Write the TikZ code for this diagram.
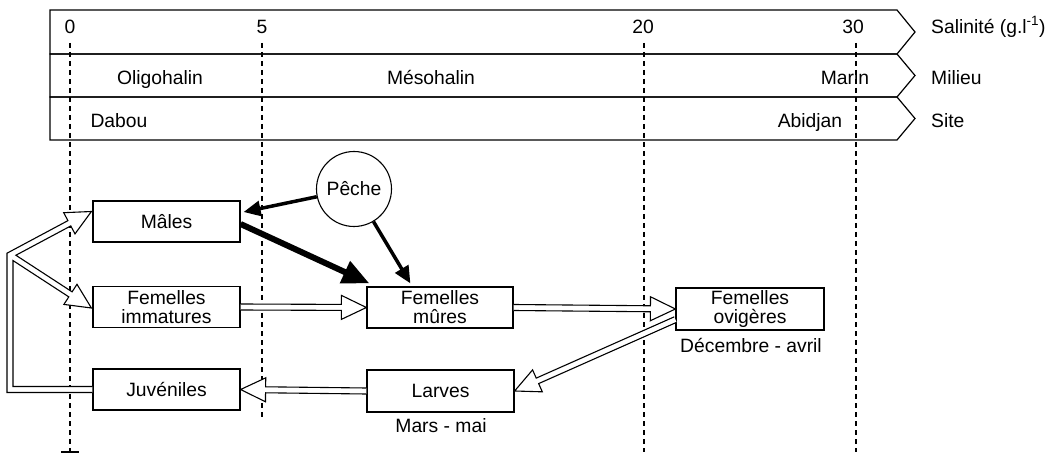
\documentclass[tikz,border=0pt]{standalone}
\usepackage{fontspec}
\setmainfont{Liberation Sans}
\usetikzlibrary{arrows.meta,calc}
\tikzset{
  box/.style={draw,line width=1.2pt,minimum width=147pt,minimum height=41pt,inner sep=0pt,align=center,fill=white},
  band/.style={draw,line width=1.2pt,line join=miter},
  gridline/.style={line width=1.1pt,dash pattern=on 5pt off 4pt},
  hollow/.style={draw,fill=white,line width=1.1pt,line join=miter},
  blkA/.style={line width=3.5pt,-{Triangle[length=17pt,width=15pt]}},
  blkB/.style={line width=6pt,-{Triangle[length=27pt,width=23pt]}},
  lab/.style={anchor=base,inner sep=0pt},
}
\newcommand{\harrow}[2]{%
  \coordinate (hA) at (#1);
  \coordinate (hB) at (#2);
  \coordinate (hC) at ($(hB)!25pt!(hA)$);
  \filldraw[hollow] ($(hA)!3pt!90:(hB)$) -- ($(hC)!3pt!90:(hB)$) -- ($(hC)!12pt!90:(hB)$) -- (hB) -- ($(hC)!12pt!-90:(hB)$) -- ($(hC)!3pt!-90:(hB)$) -- ($(hA)!3pt!-90:(hB)$);
}
\begin{document}
\begin{tikzpicture}[x=1pt,y=-1pt,font=\fontsize{19.3}{17}\selectfont]
\useasboundingbox (0,0) rectangle (1057,454);
% bands
\draw[band] (50,10) -- (897,10) -- (915,32) -- (897,54) -- (50,54) -- cycle;
\draw[band] (50,54) -- (897,54) -- (915,75.5) -- (897,97) -- (50,97) -- cycle;
\draw[band] (50,97) -- (897,97) -- (915,118.5) -- (897,140) -- (50,140) -- cycle;
% band labels
\node[lab] (s0) at (70,33.5) {0};
\node[lab] (s5) at (262,33.5) {5};
\node[lab] (s20) at (643,33.5) {20};
\node[lab] (s30) at (853,33.5) {30};
\node[lab,anchor=base west] (sal) at (931,33.5) {Salinité (g.l\textsuperscript{-1})};
\node[lab,anchor=base west] (mil) at (931,85) {Milieu};
\node[lab,anchor=base west] (site) at (931,128) {Site};
\node[lab] (oli) at (160,85) {Oligohalin};
\node[lab] (meso) at (431,85) {Mésohalin};
\node[lab] (marin) at (845,85) {Marin};
\node[lab] (dabou) at (119,128) {Dabou};
\node[lab] (abid) at (810,128) {Abidjan};
% dashed salinity lines
\draw[gridline] (70,43) -- (70,452);
\draw[line width=1.1pt] (61,452) -- (79,452);
\draw[gridline] (262,43) -- (262,418);
\draw[gridline] (644,43) -- (644,452);
\draw[gridline] (856,43) -- (856,452);
% nodes
\node[box] (males) at (166.5,221.5) {Mâles};
\node[box] (imm) at (166.5,307) {Femelles\\[2pt]immatures};
\node[box] (juv) at (166.5,389.5) {Juvéniles};
\node[box,minimum width=146pt] (mur) at (440,307.5) {Femelles\\[2pt]mûres};
\node[box,minimum height=42pt] (larv) at (440.5,391) {Larves};
\node[box,minimum width=148pt,minimum height=42pt] (ovig) at (750,309) {Femelles\\[2pt]ovigères};
\node[draw,circle,line width=1.1pt,minimum size=75pt,inner sep=0pt,fill=white] (peche) at (354,189) {Pêche};
\node[lab] (dec) at (751,352) {Décembre - avril};
\node[lab] (mars) at (441,432) {Mars - mai};
% hollow arrows
\harrow{imm.east}{mur.west}
\harrow{mur.east}{ovig.west}
\harrow{[yshift=11pt]ovig.south west}{larv.east}
\harrow{larv.west}{juv.east}
% loop juveniles -> males / femelles immatures
\coordinate (br) at (10,255);
\coordinate (mtip) at ([xshift=-1pt,yshift=10pt]males.west);
\coordinate (itip) at ([xshift=-1pt,yshift=-1pt]imm.west);
\coordinate (Cu) at ($(mtip)!25pt!(br)$);
\coordinate (Cl) at ($(itip)!25pt!(br)$);
\coordinate (uo1) at ($(br)!3pt!90:(mtip)$);
\coordinate (uo2) at ($(Cu)!3pt!90:(mtip)$);
\coordinate (ui1) at ($(br)!3pt!-90:(mtip)$);
\coordinate (ui2) at ($(Cu)!3pt!-90:(mtip)$);
\coordinate (li1) at ($(br)!3pt!90:(itip)$);
\coordinate (li2) at ($(Cl)!3pt!90:(itip)$);
\coordinate (lo1) at ($(br)!3pt!-90:(itip)$);
\coordinate (lo2) at ($(Cl)!3pt!-90:(itip)$);
\coordinate (ox) at ($(br)+(-3,0)$);
\coordinate (oxb) at ($(br)+(-3,100)$);
\coordinate (ix) at ($(br)+(3,0)$);
\coordinate (ixb) at ($(br)+(3,100)$);
\coordinate (jo) at ([yshift=-3pt]juv.west);
\coordinate (ji) at ([yshift=3pt]juv.west);
\coordinate (otc) at (intersection of ox--oxb and uo1--uo2);
\coordinate (iv) at (intersection of ui1--ui2 and li1--li2);
\coordinate (itc) at (intersection of ix--ixb and lo1--lo2);
\filldraw[hollow] (jo) -- (jo -| ox) -- (otc) -- (uo2) -- ($(Cu)!12pt!90:(mtip)$) -- (mtip) -- ($(Cu)!12pt!-90:(mtip)$) -- (ui2) -- (iv) -- (li2) -- ($(Cl)!12pt!90:(itip)$) -- (itip) -- ($(Cl)!12pt!-90:(itip)$) -- (lo2) -- (itc) -- (ji -| ix) -- (ji);
% black arrows
\draw[blkA] (peche) -- ([xshift=3pt,yshift=9.5pt]males.east);
\draw[blkB] ([yshift=-2.5pt]males.east) -- ([xshift=3pt,yshift=3pt]mur.north west);
\draw[blkA] (peche) -- ([xshift=44pt,yshift=3pt]mur.north west);
\end{tikzpicture}
\end{document}
